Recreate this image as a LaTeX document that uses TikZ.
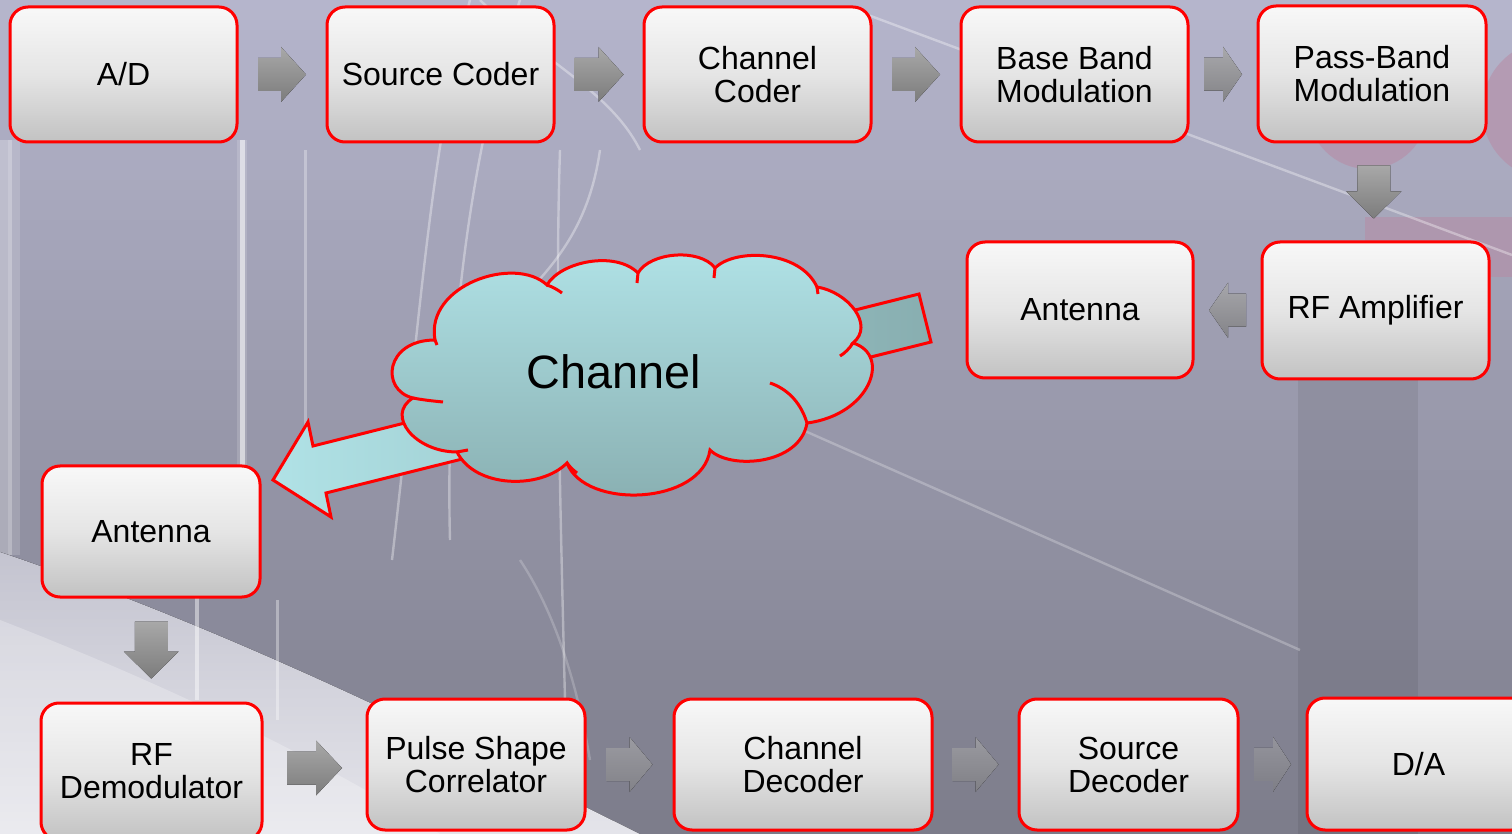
\documentclass[tikz,border=0pt]{standalone}
\usepackage{fontspec}
\setmainfont{Liberation Sans}
\usetikzlibrary{calc}
\definecolor{boxtop}{HTML}{F8F8F8}
\definecolor{boxmid}{HTML}{E5E5E5}
\definecolor{boxbot}{HTML}{C2C2C2}
\definecolor{arrtop}{HTML}{A8A8A8}
\definecolor{arrbot}{HTML}{7C7C7C}
\definecolor{cloudtop}{HTML}{B0E2E6}
\definecolor{cloudbot}{HTML}{88AEB0}
\definecolor{bgtop}{HTML}{B5B5CC}
\definecolor{bgbot}{HTML}{7C7C8A}
\definecolor{pinkish}{HTML}{B88AA4}
\definecolor{lighttop}{HTML}{C4C4D0}
\definecolor{lightbot}{HTML}{E4E4EA}
\definecolor{bgA}{HTML}{ABABC2}
\definecolor{bgB}{HTML}{A0A0B6}
\definecolor{bgC}{HTML}{8A8A98}
\definecolor{bgD}{HTML}{858594}
\definecolor{bgE}{HTML}{808090}
% #1 centre, #2 angle, #3 length, #4 head length, #5 percent of arrow colour, #6 background colour
\newcommand\blockarrow[6]{%
  \begin{scope}[shift={#1},rotate=#2]
    \fill[top color=arrtop!#5!#6,bottom color=arrbot!#5!#6]
      ({-(#3)/2},-16.5) -- ({(#3)/2-(#4)},-16.5) -- ({(#3)/2-(#4)},-27.5) -- ({(#3)/2},0)
      -- ({(#3)/2-(#4)},27.5) -- ({(#3)/2-(#4)},16.5) -- ({-(#3)/2},16.5) -- cycle;
  \end{scope}}
\begin{document}
\begin{tikzpicture}[x=0.5pt,y=-0.5pt,
  blk/.style={draw=red, line width=1.5pt, rounded corners=9pt, top color=boxtop,
    bottom color=boxbot, middle color=boxmid, align=center, inner sep=0pt,
    font=\fontsize{16}{16.5}\selectfont},
  streak/.style={white, line width=1.2pt, opacity=0.35},
  cloudline/.style={draw=red, line width=1.5pt}]
\useasboundingbox (0,0) rectangle (1512,834);
\clip (0,0) rectangle (1512,834);
% ---------- background (solid bands) ----------
\foreach \i in {0,...,83}{
  \pgfmathtruncatemacro\p{100-round(\i*100/83)}
  \fill[bgtop!\p!bgbot] (0,{\i*10}) rectangle (1512,{\i*10+10.6});
}
\draw[white, line width=8pt, opacity=0.25] (4,140) -- (4,555);
\draw[white, line width=6pt, opacity=0.15] (14,140) -- (14,555);
\fill[pinkish, opacity=0.55] (1368,109) circle (60);
\fill[pinkish, opacity=0.55] (1552,110) circle (70);
\fill[pinkish, opacity=0.5] (1365,217) rectangle (1512,277);
\fill[black, opacity=0.07] (1298,379) rectangle (1418,834);
\fill[top color=lighttop, bottom color=lightbot]
  (0,552) .. controls (230,630) and (430,730) .. (640,834) -- (0,834) -- cycle;
\fill[white, opacity=0.25] (0,620) .. controls (180,690) and (320,760) .. (440,834) -- (0,834) -- cycle;
% streaks
\draw[white, line width=2.5pt, opacity=0.55] (242,140) -- (242,470);
\draw[white, line width=5pt, opacity=0.15] (242,140) -- (242,470);
\draw[white, line width=2pt, opacity=0.45] (197,597) -- (197,700);
\draw[white, line width=1.5pt, opacity=0.35] (277,600) -- (277,720);
\draw[white, line width=1.5pt, opacity=0.3] (305,150) -- (305,460);
\draw[streak] (470,0) .. controls (430,150) and (420,320) .. (392,560);
\draw[streak] (520,0) .. controls (470,150) and (445,350) .. (450,540);
\draw[streak] (560,150) .. controls (555,300) and (560,500) .. (565,700);
\draw[streak] (600,150) .. controls (590,220) and (560,260) .. (520,300);
\draw[streak] (480,0) .. controls (540,60) and (610,90) .. (640,150);
\draw[streak] (860,12) -- (1512,255);
\draw[streak, opacity=0.25] (780,420) -- (1300,650);
\draw[streak, opacity=0.2] (520,560) .. controls (560,620) and (580,700) .. (590,760);
% ---------- blocks ----------
\node[blk, minimum width=113.5pt, minimum height=67.5pt] (ad)  at (123.5,74.5) {A/D};
\node[blk, minimum width=113.5pt, minimum height=67.5pt] (sc)  at (440.5,74.5) {Source Coder};
\node[blk, minimum width=113.5pt, minimum height=67.5pt] (cc)  at (757.5,74.5) {Channel\\Coder};
\node[blk, minimum width=113.5pt, minimum height=67.5pt] (bb)  at (1074.5,74.5) {Base Band\\Modulation};
\node[blk, minimum width=114pt, minimum height=68pt] (pb)  at (1372,74) {Pass-Band\\Modulation};
\node[blk, minimum width=113.5pt, minimum height=68.5pt] (rf)  at (1375.5,310.5) {RF Amplifier};
\node[blk, minimum width=113pt, minimum height=68pt] (ant1) at (1080,310) {Antenna};
\node[blk, minimum width=109pt, minimum height=65.5pt] (ant2) at (151,531.5) {Antenna};
\node[blk, minimum width=110.5pt, minimum height=68.5pt] (dem) at (151.5,771.5) {RF\\Demodulator};
\node[blk, minimum width=109pt, minimum height=65.5pt] (psc) at (476,764.5) {Pulse Shape\\Correlator};
\node[blk, minimum width=129pt, minimum height=65.5pt] (cd)  at (803,764.5) {Channel\\Decoder};
\node[blk, minimum width=109.5pt, minimum height=65.5pt] (sd)  at (1128.5,764.5) {Source\\Decoder};
\node[blk, minimum width=111.5pt, minimum height=66pt] (da)  at (1418.5,764) {D/A};
% ---------- gray block arrows ----------
\blockarrow{($(ad.east)!.5!(sc.west)$)}{0}{48}{25}{100}{bgA}
\blockarrow{($(sc.east)!.5!(cc.west)$)}{0}{49}{25}{100}{bgA}
\blockarrow{($(cc.east)!.5!(bb.west)$)}{0}{48}{25}{100}{bgA}
\blockarrow{($(bb.east)!.5!(pb.west)$)}{0}{38}{19}{85}{bgA}
\blockarrow{($(pb.south)!.5!(rf.north)$)}{-90}{53}{27}{100}{bgB}
\blockarrow{($(rf.west)!.5!(ant1.east)$)}{180}{37}{19}{80}{bgB}
\blockarrow{($(ant2.south)!.5!(dem.north)$)}{-90}{57}{27}{100}{bgC}
\blockarrow{($(dem.east)!.5!(psc.west)$)}{0}{55}{26}{100}{bgC}
\blockarrow{($(psc.east)!.5!(cd.west)$)}{0}{46}{23}{55}{bgC}
\blockarrow{($(cd.east)!.5!(sd.west)$)}{0}{46}{23}{60}{bgD}
\blockarrow{($(sd.east)!.5!(da.west)$)}{0}{37}{18}{50}{bgE}
% ---------- big channel arrow (behind the cloud) ----------
\coordinate (tailA) at (919,294);
\coordinate (tailB) at (931,342);
\coordinate (tip) at (273,480);
\draw[cloudline, line join=miter, left color=cloudtop, right color=cloudbot]
  (tailA) -- (313,446) -- (308,422) -- (tip) -- (331,517) -- (326,493) -- (tailB) -- cycle;
% ---------- cloud ----------
\coordinate (J1) at (435,340);
\coordinate (J2) at (547,285);
\coordinate (J3) at (638,273);
\coordinate (J4) at (715,268);
\coordinate (J5) at (817,287);
\coordinate (J6) at (853,343);
\coordinate (J7) at (807,423);
\coordinate (J8) at (710,450);
\coordinate (J9) at (567,463);
\coordinate (J10) at (457,452);
\coordinate (J11) at (413,398);
\draw[cloudline, top color=cloudtop, bottom color=cloudbot]
  (J1) .. controls (425,285) and (515,255) .. (J2)
  .. controls (560,262) and (615,250) .. (J3)
  .. controls (650,252) and (700,248) .. (J4)
  .. controls (735,248) and (800,250) .. (J5)
  .. controls (848,292) and (875,325) .. (J6)
  .. controls (892,355) and (870,415) .. (J7)
  .. controls (800,465) and (730,470) .. (J8)
  .. controls (702,505) and (585,510) .. (J9)
  .. controls (540,490) and (475,488) .. (J10)
  .. controls (415,452) and (385,415) .. (J11)
  .. controls (380,390) and (385,340) .. (J1) -- cycle;
% inner stubs
\draw[cloudline] (J2) .. controls (553,287) and (558,290) .. (562,293);
\draw[cloudline] (J3) -- (637,283);
\draw[cloudline] (J4) -- (714,278);
\draw[cloudline] (J5) -- (818,294);
\draw[cloudline] (J6) .. controls (849,349) and (845,353) .. (840,356);
\draw[cloudline] (J7) .. controls (800,400) and (785,388) .. (770,383);
\draw[cloudline] (J9) .. controls (570,467) and (573,470) .. (577,473);
\draw[cloudline] (J10) -- (468,450);
\draw[cloudline] (J11) .. controls (423,400) and (433,401) .. (443,402);
\draw[cloudline] (J1) -- (437,345);
\node[font=\fontsize{23.4}{24}\selectfont, inner sep=0pt] (channel) at (614,372) {Channel};
\end{tikzpicture}
\end{document}
